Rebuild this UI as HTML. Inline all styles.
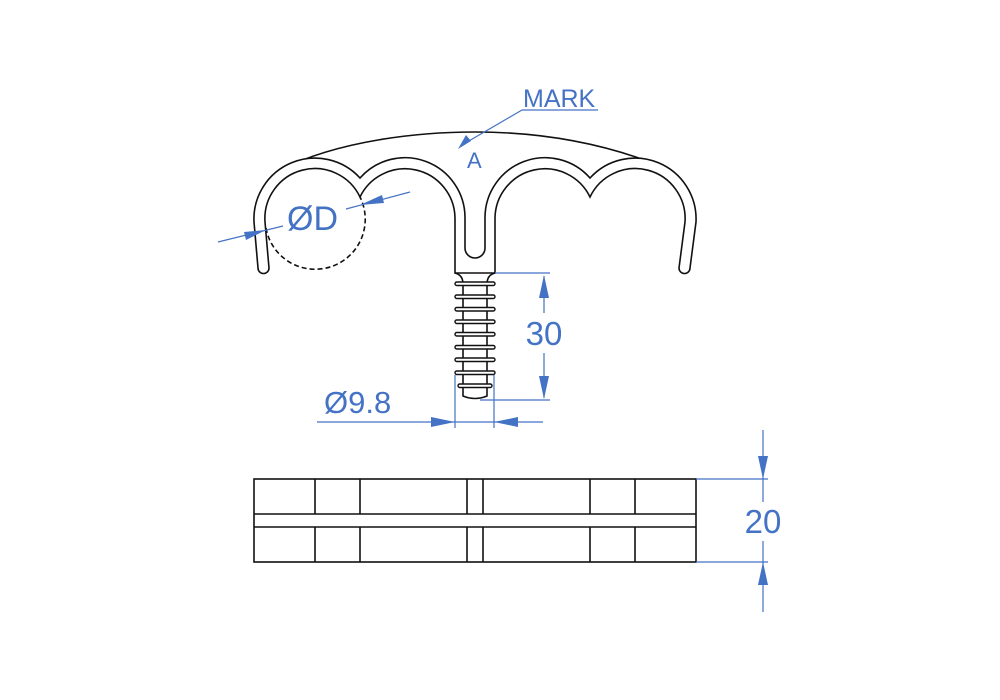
<!DOCTYPE html>
<html><head><style>body{margin:0;background:#fff}svg{display:block}</style></head><body>
<svg width="1000" height="700" viewBox="0 0 1000 700" xmlns="http://www.w3.org/2000/svg">
<g fill="none" stroke="#111" stroke-width="1.6">
<path d="M280,170 C340,140 420,132 475,132 C530,132 600,140 670,170"/>
<path d="M258,268 L254,222 A61,61 0 0 1 360,178 A60,60 0 0 1 465,218 L465,248 A10,10 0 0 0 485,248 L485,218 A60,60 0 0 1 590,178 A61,61 0 0 1 696,222 L690,268 A5.5,5.5 0 0 1 679,268 L685,222 A50,50 0 0 0 590,197 A50,50 0 0 0 495,218 L495,273 L455,273 L455,218 A50,50 0 0 0 360,197 A50,50 0 0 0 265,222 L269,268 A5.5,5.5 0 0 1 258,268 Z" fill="#fff"/>
<path d="M266,228 A50,50 0 1 0 360,197" stroke-dasharray="5,3"/>
<path d="M455,273 Q463,275 463,284 L463,396 Q475,401 487,396 L487,284 Q487,275 495,273"/>
<g fill="#fff" stroke-width="1.4">
<rect x="455" y="282" width="40" height="3.5" rx="1.7"/>
<rect x="455" y="295" width="40" height="3.5" rx="1.7"/>
<rect x="455" y="307.5" width="40" height="3.5" rx="1.7"/>
<rect x="455" y="320" width="40" height="3.5" rx="1.7"/>
<rect x="455" y="332.5" width="40" height="3.5" rx="1.7"/>
<rect x="455" y="345.5" width="40" height="3.5" rx="1.7"/>
<rect x="455" y="358" width="40" height="3.5" rx="1.7"/>
<rect x="455" y="371" width="40" height="3.5" rx="1.7"/>
<rect x="458" y="384" width="34" height="3.5" rx="1.7"/>
</g>
<rect x="254" y="479" width="442" height="83"/>
<path d="M254,514 H696 M254,527 H696 M315,479 V514 M315,527 V562 M360,479 V514 M360,527 V562 M467,479 V514 M467,527 V562 M483,479 V514 M483,527 V562 M590,479 V514 M590,527 V562 M635,479 V514 M635,527 V562"/>
</g>
<g stroke="#4472c4" stroke-width="1.2" fill="none">
<path d="M522,110 H598 M522,110 L462,145"/>
<path d="M218,242 L283,226 M346,209 L410,192"/>
<path d="M495,273 H550 M480,400 H550 M544,276 V313 M544,353 V398"/>
<path d="M455,375 V428 M494,375 V428 M317,422 H543"/>
<path d="M696,479 H768 M696,562 H768 M763,430 V502 M763,541 V612"/>
</g>
<g fill="#4472c4">
<path d="M458,149 L466,135 L471,141 Z"/>
<path d="M266,230 L244,232 L246,240 Z"/>
<path d="M360,205 L382,195 L384,203 Z"/>
<path d="M544,275 L539,298 L549,298 Z"/>
<path d="M544,399 L539,376 L549,376 Z"/>
<path d="M455,422 L431,417 L431,427 Z"/>
<path d="M494,422 L518,417 L518,427 Z"/>
<path d="M763,479 L758,456 L768,456 Z"/>
<path d="M763,562 L758,585 L768,585 Z"/>
</g>
<g fill="#4472c4" font-family="Liberation Sans, sans-serif">
<text x="523" y="107" font-size="25">MARK</text>
<text x="467" y="168" font-size="22">A</text>
<text x="287" y="230" font-size="34">ØD</text>
<text x="544" y="345" font-size="33" text-anchor="middle">30</text>
<text x="324" y="413" font-size="31">Ø9.8</text>
<text x="763" y="533" font-size="33" text-anchor="middle">20</text>
</g>
</svg>
</body></html>
